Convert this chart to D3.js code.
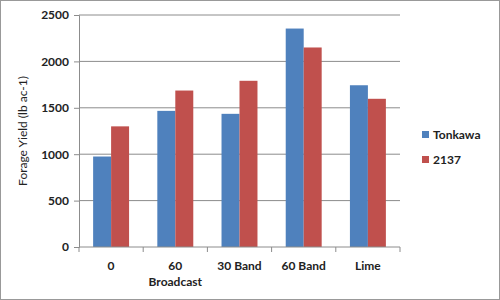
<!DOCTYPE html>
<html>
<head>
<meta charset="utf-8">
<script src="https://cdn.jsdelivr.net/npm/d3@7"></script>
<style>
  body { margin: 0; background: #fff; }
  text { font-family: Lato, "Open Sans", sans-serif; font-weight: bold; fill: #222; }
</style>
</head>
<body>
<div id="chart"></div>
<script>
// chart data
const categories = ["0", "60", "30 Band", "60 Band", "Lime"]
const seriesNames = ["Tonkawa", "2137"]
const tonkawa = [975, 1467, 1435, 2354, 1743]
const yield2137 = [1300, 1686, 1791, 2150, 1597]
const yTicks = [0, 500, 1000, 1500, 2000, 2500]
const colors = ["#4F81BD", "#C0504D"]

let margin = {top: 15, right: 100, bottom: 53, left: 79}
let width = 500 - margin.left - margin.right
let height = 300 - margin.top - margin.bottom

let root = d3.select("#chart").append("svg")
    .attr("width", 500)
    .attr("height", 300)

root.append("rect").attr("x", 0.5).attr("y", 0.5).attr("width", 499).attr("height", 299)
    .attr("fill", "#fff").attr("stroke", "#999")

let svg = root.append("g")
    .attr("transform", "translate(" + margin.left + "," + margin.top + ")")

let x = d3.scaleBand().domain(categories).range([0, width]).paddingInner(0).paddingOuter(0)
let xInner = d3.scaleBand().domain(seriesNames).range([x.bandwidth() * 0.22, x.bandwidth() * 0.78])
let y = d3.scaleLinear().domain([0, 2500]).range([height, 0])

// gridlines
svg.append("g").selectAll("line").data(yTicks.slice(1)).enter().append("line")
    .attr("x1", 0).attr("x2", width)
    .attr("y1", d => y(d)).attr("y2", d => y(d))
    .attr("stroke", "#8c8c8c").attr("stroke-width", 1)

// bars
let rows = categories.map((c, i) => ({cat: c, vals: [tonkawa[i], yield2137[i]]}))
let groups = svg.append("g").selectAll("g").data(rows).enter().append("g")
    .attr("transform", d => "translate(" + x(d.cat) + ",0)")
groups.selectAll("rect").data(d => d.vals.map((v, j) => ({name: seriesNames[j], v: v, j: j})))
    .enter().append("rect")
    .attr("x", d => xInner(d.name))
    .attr("width", xInner.bandwidth())
    .attr("y", d => y(d.v))
    .attr("height", d => height - y(d.v))
    .attr("fill", d => colors[d.j])

// y axis
let yAxis = d3.axisLeft(y).tickValues(yTicks).tickFormat(d3.format("d")).tickSize(5).tickPadding(5)
let yg = svg.append("g").attr("class", "y-axis").call(yAxis)
yg.select(".domain").attr("stroke", "#8c8c8c")
yg.selectAll(".tick line").attr("stroke", "#8c8c8c")
yg.selectAll("text").style("font-size", "12px")

// x axis
let xg = svg.append("g").attr("transform", "translate(0," + height + ")")
xg.append("line").attr("x1", 0).attr("x2", width).attr("stroke", "#8c8c8c")
xg.selectAll(".xt").data(d3.range(categories.length + 1)).enter().append("line")
    .attr("x1", d => d * x.bandwidth()).attr("x2", d => d * x.bandwidth())
    .attr("y1", 0).attr("y2", 5).attr("stroke", "#8c8c8c")
xg.selectAll(".xl").data(categories).enter().append("text")
    .attr("x", d => x(d) + x.bandwidth() / 2)
    .attr("y", 23)
    .attr("text-anchor", "middle")
    .style("font-size", "12px")
    .text(d => d)
xg.append("text")
    .attr("x", x("60") + x.bandwidth() / 2)
    .attr("y", 39)
    .attr("text-anchor", "middle")
    .style("font-size", "12px")
    .text("Broadcast")

// y title
svg.append("text")
    .attr("transform", "translate(-52," + (height / 2) + ") rotate(-90)")
    .attr("text-anchor", "middle")
    .style("font-size", "12px")
    .style("font-weight", "normal")
    .text("Forage Yield (lb ac-1)")

// legend
let legend = root.append("g").attr("transform", "translate(422,131)")
seriesNames.forEach((n, i) => {
    legend.append("rect").attr("x", 0).attr("y", i * 25).attr("width", 7).attr("height", 7).attr("fill", colors[i])
    legend.append("text").attr("x", 11).attr("y", i * 25 + 8).style("font-size", "12px").text(n)
})
</script>
</body>
</html>
